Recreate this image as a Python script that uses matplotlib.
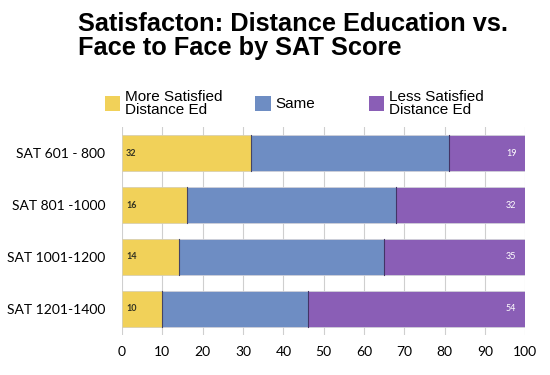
import matplotlib
matplotlib.use("Agg")
import matplotlib.pyplot as plt
from matplotlib.patches import Rectangle

categories = ["SAT 601 - 800", "SAT 801 -1000", "SAT 1001-1200", "SAT 1201-1400"]
more_sat = [32, 16, 14, 10]
same = [49, 52, 51, 36]
less_sat = [19, 32, 35, 54]
series_names = ["More Satisfied\nDistance Ed", "Same", "Less Satisfied\nDistance Ed"]
x_ticks = [0, 10, 20, 30, 40, 50, 60, 70, 80, 90, 100]

c_yellow = "#F1D159"
c_blue = "#6E8DC3"
c_purple = "#8A5EB6"

fig = plt.figure(figsize=(5.5, 3.75), dpi=100)
ax = fig.add_axes([0.222, 0.107, 0.733, 0.554])

y = list(range(len(categories)))
h = 0.69
ax.barh(y, more_sat, height=h, color=c_yellow, edgecolor="#d8d0b0", linewidth=0.6, zorder=3)
ax.barh(y, same, left=more_sat, height=h, color=c_blue, edgecolor="#d0d0d8", linewidth=0.6, zorder=3)
lefts = [a + b for a, b in zip(more_sat, same)]
ax.barh(y, less_sat, left=lefts, height=h, color=c_purple, edgecolor="#d0d0d8", linewidth=0.6, zorder=3)
for yi, l in zip(y, more_sat):
    ax.plot([l, l], [yi - h / 2, yi + h / 2], color="#444466", lw=0.8, zorder=4)
for yi, l in zip(y, lefts):
    ax.plot([l, l], [yi - h / 2, yi + h / 2], color="#443366", lw=0.8, zorder=4)

for yi, v in zip(y, more_sat):
    ax.text(1.0, yi, str(v), va="center", ha="left", fontsize=6.5, fontweight="bold",
            color="#333322", family="Lato", zorder=5)
for yi, v in zip(y, less_sat):
    ax.text(97.8, yi, str(v), va="center", ha="right", fontsize=6.5,
            color="white", family="Lato", zorder=5)

ax.set_xlim(0, 100)
ax.set_ylim(3.5, -0.5)
ax.set_xticks(x_ticks)
ax.set_xticklabels([str(t) for t in x_ticks], fontsize=10, family="Lato")
ax.set_yticks(y)
ax.set_yticklabels(categories, fontsize=10, family="Lato")
ax.tick_params(axis="both", length=0, pad=8)
ax.tick_params(axis="y", pad=12)
ax.grid(axis="x", color="#cfcfcf", lw=0.8, zorder=0)
for s in ax.spines.values():
    s.set_visible(False)

fig.text(0.142, 0.968, "Satisfacton: Distance Education vs.\nFace to Face by SAT Score",
         fontsize=18.3, fontweight="bold", family="Liberation Sans", va="top", ha="left",
         linespacing=1.0)

leg_items = [(0.191, c_yellow, series_names[0]), (0.464, c_blue, series_names[1]),
             (0.670, c_purple, series_names[2])]
for x0, col, name in leg_items:
    fig.patches.append(Rectangle((x0, 0.703), 0.028, 0.042, transform=fig.transFigure,
                                 facecolor=col, edgecolor="none"))
    fig.text(x0 + 0.037, 0.724, name, fontsize=11, family="Liberation Sans",
             va="center", ha="left", linespacing=0.95)

fig.savefig("out.png", dpi=100)
